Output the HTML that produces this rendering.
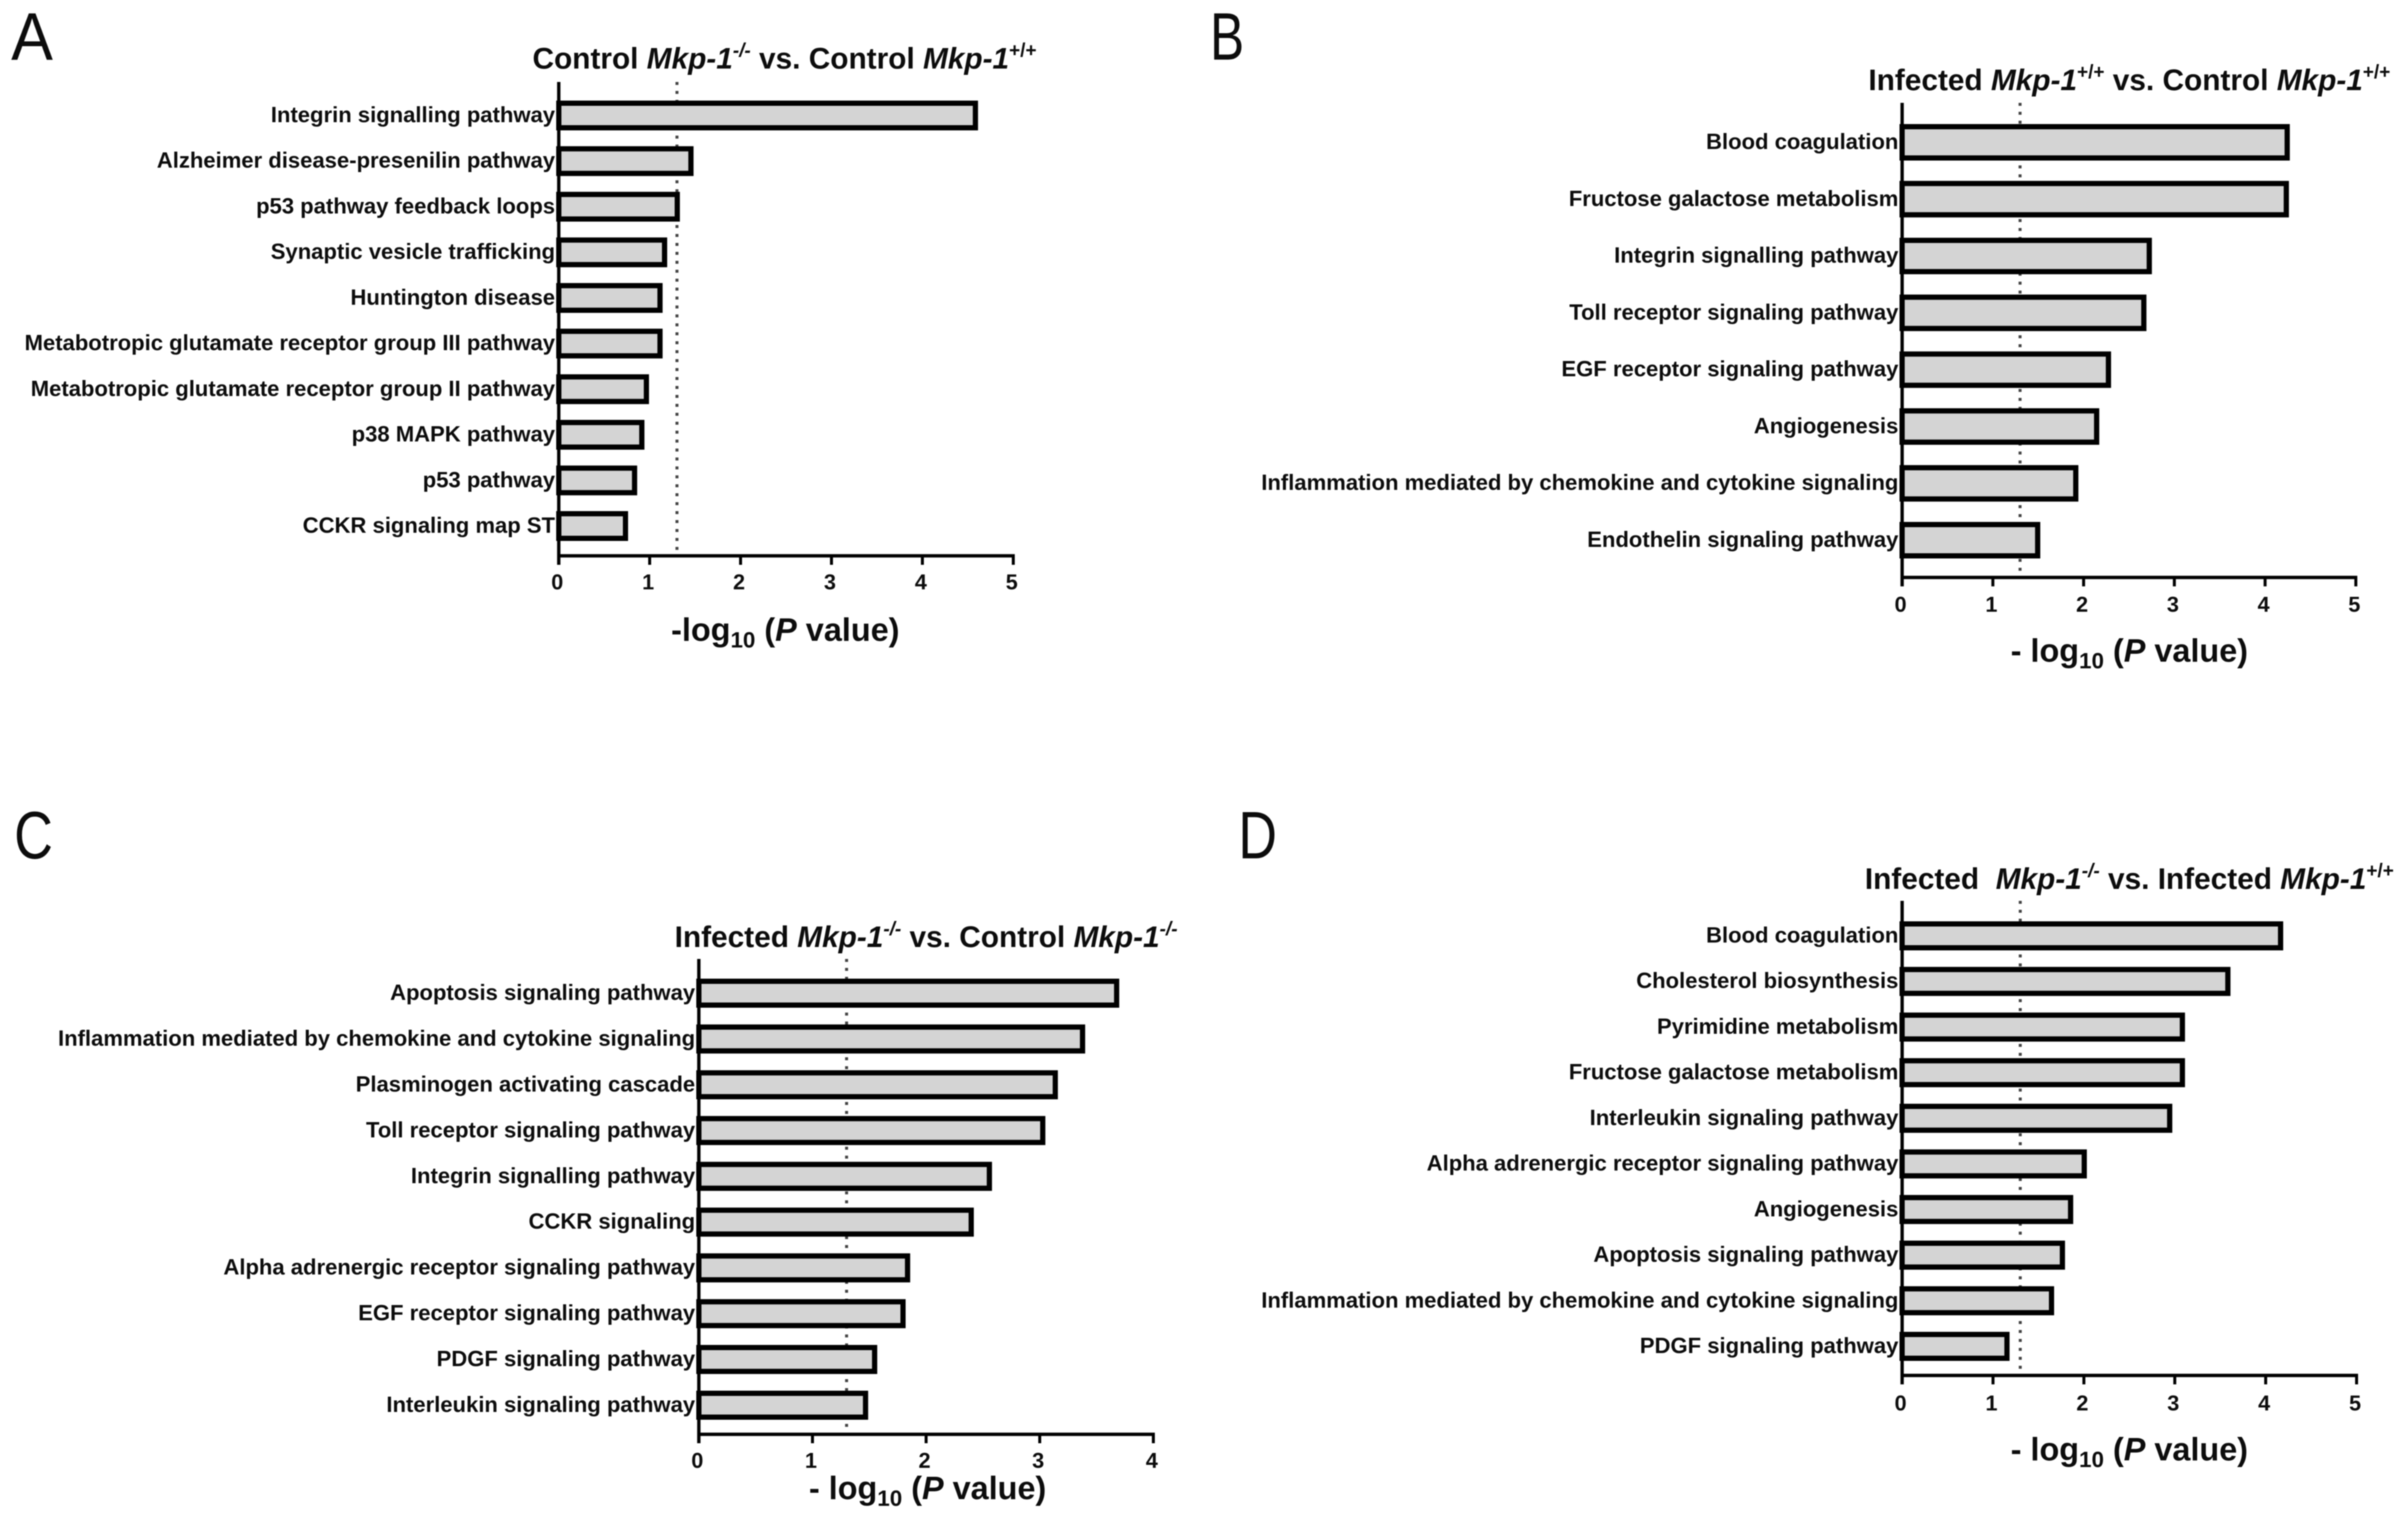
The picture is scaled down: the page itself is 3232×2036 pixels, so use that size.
<!DOCTYPE html>
<html lang="en">
<head>
<meta charset="utf-8">
<title>Pathway enrichment bar charts</title>
<style>
html,body{margin:0;padding:0;background:#fff;width:3232px;height:2036px;overflow:hidden}
svg{display:block;filter:blur(0.7px)}
text{font-family:"Liberation Sans",Arial,sans-serif;fill:#0c0c0c}
.letter{font-size:90px;font-weight:400}
.ttl{font-size:40px;font-weight:700}
.xt{font-size:43.5px;font-weight:700}
.cat{font-size:29.6px;font-weight:700}
.tick{font-size:29px;font-weight:700}
</style>
</head>
<body>
<svg id="figure" xmlns="http://www.w3.org/2000/svg" width="3232" height="2036" viewBox="0 0 3232 2036">
  <rect width="3232" height="2036" fill="#fff"/>

  <text class="letter" x="15" y="80" textLength="56" lengthAdjust="spacingAndGlyphs">A</text>
  <text class="letter" x="1624" y="80" textLength="46" lengthAdjust="spacingAndGlyphs">B</text>
  <text class="letter" x="19" y="1152" textLength="52" lengthAdjust="spacingAndGlyphs">C</text>
  <text class="letter" x="1662" y="1152" textLength="52" lengthAdjust="spacingAndGlyphs">D</text>

  <text class="ttl" x="1053" y="92" text-anchor="middle">Control <tspan font-style="italic">Mkp-1</tspan><tspan font-size="25.5" dy="-16" font-style="italic">-/-</tspan><tspan dy="16"> vs. Control </tspan><tspan font-style="italic">Mkp-1</tspan><tspan font-size="25.5" dy="-16">+/+</tspan></text>
  <text class="ttl" x="2858" y="121" text-anchor="middle">Infected <tspan font-style="italic">Mkp-1</tspan><tspan font-size="25.5" dy="-16">+/+</tspan><tspan dy="16"> vs. Control </tspan><tspan font-style="italic">Mkp-1</tspan><tspan font-size="25.5" dy="-16">+/+</tspan></text>
  <text class="ttl" x="1243" y="1271" text-anchor="middle">Infected <tspan font-style="italic">Mkp-1</tspan><tspan font-size="25.5" dy="-16" font-style="italic">-/-</tspan><tspan dy="16"> vs. Control </tspan><tspan font-style="italic">Mkp-1</tspan><tspan font-size="25.5" dy="-16" font-style="italic">-/-</tspan></text>
  <text class="ttl" x="2858" y="1193" text-anchor="middle" xml:space="preserve">Infected  <tspan font-style="italic">Mkp-1</tspan><tspan font-size="25.5" dy="-16" font-style="italic">-/-</tspan><tspan dy="16"> vs. Infected </tspan><tspan font-style="italic">Mkp-1</tspan><tspan font-size="25.5" dy="-16">+/+</tspan></text>

  <text class="xt" x="1054" y="860" text-anchor="middle">-log<tspan font-size="30" dy="9">10</tspan><tspan dy="-9"> (</tspan><tspan font-style="italic">P</tspan> value)</text>
  <text class="xt" x="2858" y="888" text-anchor="middle">- log<tspan font-size="30" dy="9">10</tspan><tspan dy="-9"> (</tspan><tspan font-style="italic">P</tspan> value)</text>
  <text class="xt" x="1245" y="2012" text-anchor="middle">- log<tspan font-size="30" dy="9">10</tspan><tspan dy="-9"> (</tspan><tspan font-style="italic">P</tspan> value)</text>
  <text class="xt" x="2858" y="1960" text-anchor="middle">- log<tspan font-size="30" dy="9">10</tspan><tspan dy="-9"> (</tspan><tspan font-style="italic">P</tspan> value)</text>
</svg>
<script>
var significanceThreshold = 1.3;

var panelACategories = ["Integrin signalling pathway","Alzheimer disease-presenilin pathway","p53 pathway feedback loops","Synaptic vesicle trafficking","Huntington disease","Metabotropic glutamate receptor group III pathway","Metabotropic glutamate receptor group II pathway","p38 MAPK pathway","p53 pathway","CCKR signaling map ST"];
var panelAValues = [4.6,1.47,1.32,1.18,1.13,1.13,0.98,0.93,0.85,0.75];
var panelATicks = [0,1,2,3,4,5];

var panelBCategories = ["Blood coagulation","Fructose galactose metabolism","Integrin signalling pathway","Toll receptor signaling pathway","EGF receptor signaling pathway","Angiogenesis","Inflammation mediated by chemokine and cytokine signaling","Endothelin signaling pathway"];
var panelBValues = [4.26,4.25,2.74,2.68,2.29,2.16,1.93,1.51];
var panelBTicks = [0,1,2,3,4,5];

var panelCCategories = ["Apoptosis signaling pathway","Inflammation mediated by chemokine and cytokine signaling","Plasminogen activating cascade","Toll receptor signaling pathway","Integrin signalling pathway","CCKR signaling","Alpha adrenergic receptor signaling pathway","EGF receptor signaling pathway","PDGF signaling pathway","Interleukin signaling pathway"];
var panelCValues = [3.69,3.39,3.15,3.04,2.57,2.41,1.85,1.81,1.56,1.48];
var panelCTicks = [0,1,2,3,4];

var panelDCategories = ["Blood coagulation","Cholesterol biosynthesis","Pyrimidine metabolism","Fructose galactose metabolism","Interleukin signaling pathway","Alpha adrenergic receptor signaling pathway","Angiogenesis","Apoptosis signaling pathway","Inflammation mediated by chemokine and cytokine signaling","PDGF signaling pathway"];
var panelDValues = [4.18,3.6,3.1,3.1,2.96,2.02,1.87,1.78,1.66,1.17];
var panelDTicks = [0,1,2,3,4,5];

var SVG_NS = "http://www.w3.org/2000/svg";
var figure = document.getElementById("figure");

function make(tag, attrs, parent) {
  var node = document.createElementNS(SVG_NS, tag);
  for (var key in attrs) { node.setAttribute(key, attrs[key]); }
  parent.appendChild(node);
  return node;
}

function slug(text) {
  return String(text).toLowerCase().replace(/[^a-z0-9]+/g, "-").replace(/^-|-$/g, "");
}

function drawPanel(id, categories, values, ticks, box) {
  var maxTick = ticks[ticks.length - 1];
  function xScale(v) { return box.left + (box.right - box.left) * v / maxTick; }
  function yScale(i) { return box.first + (box.last - box.first) * i / (categories.length - 1); }

  var group = make("g", {}, figure);
  
  

  var threshold = make("line", {x1: xScale(significanceThreshold), x2: xScale(significanceThreshold), y1: box.top, y2: box.bottom, stroke: "#444", "stroke-width": 4, "stroke-dasharray": "4 8"}, group);
  
  

  categories.forEach(function (category, i) {
    var sw = 7;
    var y = yScale(i);
    var bar = make("rect", {x: xScale(0), y: y - box.barHeight / 2 + sw / 2, width: xScale(values[i]) - xScale(0) - 2, height: box.barHeight - sw, fill: "#d4d4d4", stroke: "#000", "stroke-width": sw}, group);
    
    

    var label = make("text", {x: xScale(0) - 5, y: y + 9, "text-anchor": "end", "class": "cat"}, group);
    label.textContent = category;
    
    
  });

  var yAxis = make("line", {x1: box.left, x2: box.left, y1: box.top, y2: box.bottom + 12, stroke: "#000", "stroke-width": 4.5}, group);
  
  

  var xAxis = make("line", {x1: box.left - 2, x2: box.right + 2, y1: box.bottom, y2: box.bottom, stroke: "#000", "stroke-width": 4.5}, group);
  
  

  ticks.forEach(function (tick) {
    var mark = make("line", {x1: xScale(tick), x2: xScale(tick), y1: box.bottom, y2: box.bottom + 12, stroke: "#000", "stroke-width": 4}, group);
    
    

    var tickLabel = make("text", {x: xScale(tick) - 2, y: box.tickY + 11, "text-anchor": "middle", "class": "tick"}, group);
    tickLabel.textContent = tick;
    
    
  });
}

drawPanel("a", panelACategories, panelAValues, panelATicks, {left: 750, right: 1360, top: 110, bottom: 746, first: 155, last: 706, barHeight: 40, tickY: 780});
drawPanel("b", panelBCategories, panelBValues, panelBTicks, {left: 2553, right: 3162, top: 138, bottom: 775, first: 191, last: 725, barHeight: 49, tickY: 810});
drawPanel("c", panelCCategories, panelCValues, panelCTicks, {left: 938, right: 1548, top: 1287, bottom: 1925, first: 1333, last: 1886, barHeight: 39, tickY: 1959});
drawPanel("d", panelDCategories, panelDValues, panelDTicks, {left: 2553, right: 3163, top: 1209, bottom: 1846, first: 1256, last: 1807, barHeight: 39, tickY: 1882});
</script>
</body>
</html>
